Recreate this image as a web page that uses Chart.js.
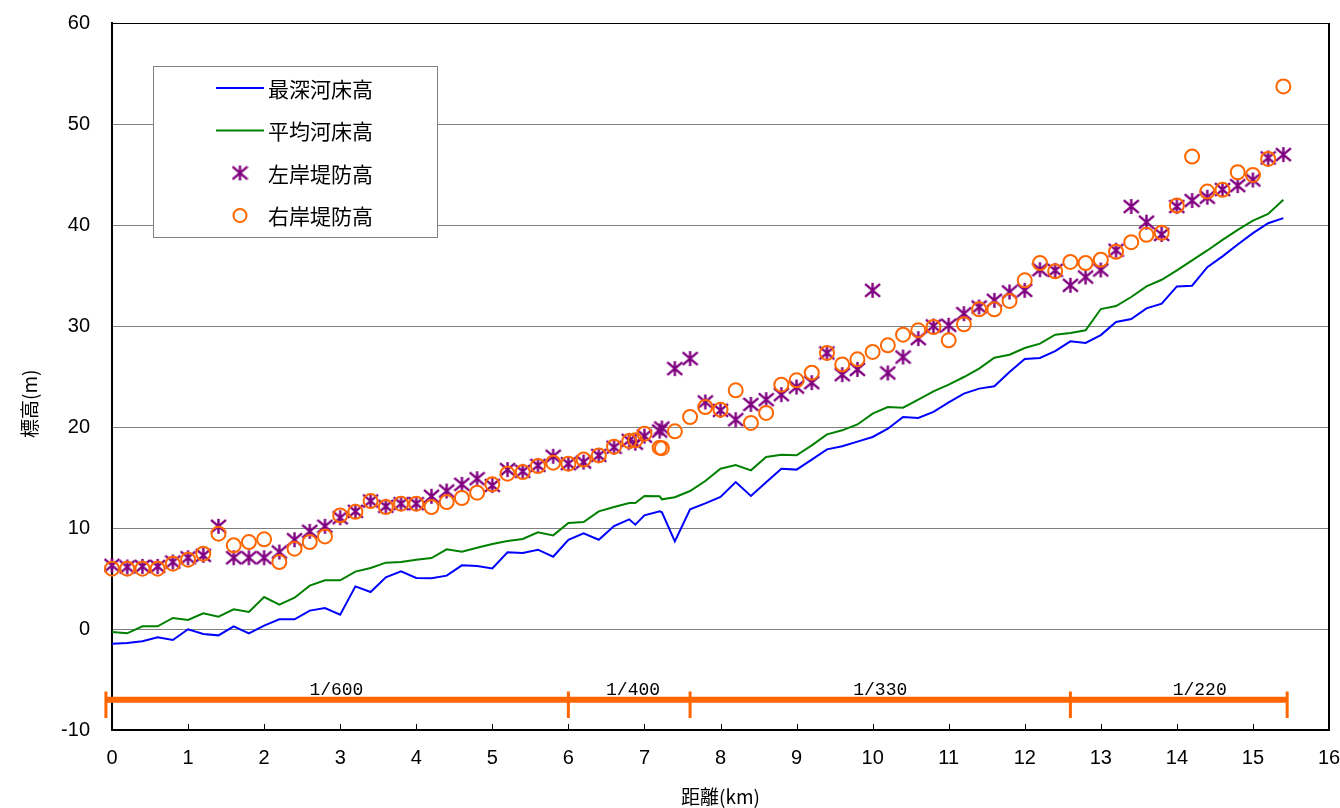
<!DOCTYPE html>
<html>
<head>
<meta charset="utf-8">
<script src="https://cdn.jsdelivr.net/npm/chart.js@4.4.1/dist/chart.umd.min.js"></script>
<style>
  html, body { margin: 0; padding: 0; background: #fff; }
  #wrap { width: 1340px; height: 808px; }
</style>
</head>
<body>
<div id="wrap"><canvas id="c" width="1340" height="808"></canvas></div>
<script>
// distance along the river (km)
const dist = [
  0, 0.2, 0.4, 0.6, 0.8, 1.0, 1.2, 1.4, 1.6, 1.8, 2.0, 2.2, 2.4, 2.6, 2.8, 3.0,
  3.2, 3.4, 3.6, 3.8, 4.0, 4.2, 4.4, 4.6, 4.8, 5.0, 5.2, 5.4, 5.6, 5.8, 6.0,
  6.2, 6.4, 6.6, 6.8, 6.88, 7.0, 7.2, 7.23, 7.4, 7.6, 7.8, 8.0, 8.2, 8.4, 8.6,
  8.8, 9.0, 9.2, 9.4, 9.6, 9.8, 10.0, 10.2, 10.4, 10.6, 10.8, 11.0, 11.2, 11.4,
  11.6, 11.8, 12.0, 12.2, 12.4, 12.6, 12.8, 13.0, 13.2, 13.4, 13.6, 13.8, 14.0,
  14.2, 14.4, 14.6, 14.8, 15.0, 15.2, 15.4
];
// 最深河床高
const deepestBed = [
  -1.45, -1.39, -1.22, -0.83, -1.09, -0.03, -0.5, -0.63, 0.26, -0.43, 0.33, 0.96, 0.96, 1.82, 2.08, 1.42,
  4.22, 3.66, 5.12, 5.71, 5.05, 5.02, 5.28, 6.3, 6.24, 6.0, 7.59, 7.52, 7.85, 7.16, 8.84,
  9.47, 8.84, 10.2, 10.86, 10.33, 11.25, 11.65, 11.55, 8.68, 11.85, 12.44, 13.07, 14.55, 13.17, 14.52,
  15.87, 15.78, 16.77, 17.79, 18.09, 18.55, 19.01, 19.83, 20.99, 20.89, 21.49, 22.44, 23.3, 23.8,
  24.03, 25.45, 26.73, 26.83, 27.52, 28.48, 28.32, 29.1, 30.4, 30.69, 31.75, 32.21, 33.92,
  33.99, 35.83, 36.89, 38.07, 39.19, 40.18, 40.68
];
// 平均河床高
const averageBed = [
  -0.3, -0.43, 0.26, 0.26, 1.09, 0.89, 1.55, 1.22, 1.95, 1.68, 3.17, 2.41, 3.1, 4.29, 4.82, 4.82,
  5.68, 6.04, 6.57, 6.63, 6.86, 7.03, 7.89, 7.66, 8.05, 8.42, 8.71, 8.91, 9.57, 9.27, 10.5,
  10.59, 11.65, 12.08, 12.48, 12.48, 13.17, 13.14, 12.84, 13.04, 13.66, 14.65, 15.87, 16.24, 15.71, 17.03,
  17.26, 17.2, 18.18, 19.27, 19.67, 20.25, 21.32, 21.98, 21.91, 22.71, 23.53, 24.19, 24.95, 25.78,
  26.86, 27.16, 27.82, 28.25, 29.14, 29.31, 29.57, 31.68, 31.97, 32.87, 33.92, 34.58, 35.5,
  36.49, 37.48, 38.53, 39.52, 40.44, 41.1, 42.49
];
// 左岸堤防高
const leftBank = [
  6.3, 6.14, 6.2, 6.2, 6.63, 7.06, 7.29, 10.17, 7.06, 7.06, 7.06, 7.62, 8.84, 9.67, 10.17, 11.02,
  11.65, 12.67, 12.15, 12.41, 12.41, 13.14, 13.66, 14.32, 14.88, 14.22, 15.78, 15.61, 16.2, 17.1, 16.37,
  16.53, 17.19, 18.0, 18.68, 18.4, 19.1, 19.6, 19.9, 25.78, 26.77, 22.48, 21.65, 20.73, 22.24, 22.71,
  23.2, 23.96, 24.39, 27.33, 25.18, 25.7, 33.53, 25.35, 26.93, 28.75, 30.0, 30.07, 31.22, 31.88,
  32.54, 33.37, 33.53, 35.58, 35.51, 34.03, 34.85, 35.55, 37.5, 41.83, 40.28, 39.06, 41.83,
  42.42, 42.75, 43.51, 43.9, 44.46, 46.64, 46.97
];
// 右岸堤防高
const rightBank = [
  5.97, 5.97, 5.97, 5.97, 6.47, 6.86, 7.46, 9.44, 8.28, 8.61, 8.88, 6.63, 7.95, 8.61, 9.17, 11.25,
  11.6, 12.67, 12.08, 12.41, 12.41, 12.08, 12.57, 12.97, 13.5, 14.32, 15.38, 15.54, 16.14, 16.47, 16.37,
  16.77, 17.19, 18.05, 18.61, 18.68, 19.34, 17.95, 17.9, 19.57, 20.99, 21.98, 21.72, 23.63, 20.4, 21.39,
  24.19, 24.62, 25.38, 27.33, 26.2, 26.7, 27.43, 28.09, 29.14, 29.57, 29.9, 28.58, 30.17, 31.65,
  31.65, 32.48, 34.52, 36.24, 35.41, 36.34, 36.24, 36.56, 37.35, 38.3, 39.03, 39.23, 41.93,
  46.77, 43.31, 43.48, 45.22, 44.96, 46.54, 53.72
];
// river bed gradient sections
const gradBreaks = [-0.08, 6.0, 7.6, 12.6, 15.45];
const gradLabels = ['1/600', '1/400', '1/330', '1/220'];
const gradLabelAt = [2.95, 6.85, 10.1, 14.3];
const gradLevel = -7;
const gradTickTop = -6.2;
const gradTickBottom = -8.8;
const gradLabelLevel = -6.1;

const ORANGE = '#FF6600';
const PURPLE = '#800080';
const TICK_FONT = { family: '"Liberation Sans", Arial, sans-serif', size: 20 };
const JP_FONT = '"Noto Sans CJK JP", sans-serif';

const toXY = ys => dist.map((x, i) => ({ x, y: ys[i] }));

// Excel-like "*" marker: X plus a vertical bar
function asterisk(color, size) {
  const c = document.createElement('canvas');
  c.width = c.height = size;
  const g = c.getContext('2d');
  g.strokeStyle = color;
  g.lineWidth = 2.4;
  const m = size / 2, r = size / 2 - 1;
  g.beginPath();
  g.moveTo(m, m - r); g.lineTo(m, m + r);
  g.moveTo(m - r, m - r * 0.85); g.lineTo(m + r, m + r * 0.85);
  g.moveTo(m + r, m - r * 0.85); g.lineTo(m - r, m + r * 0.85);
  g.stroke();
  return c;
}
const starImg = asterisk(PURPLE, 17);

// listed right-to-left so Chart.js does not treat them as sorted and skip the one left of x=0
const gradTicks = gradBreaks.slice().reverse().flatMap(x => [
  { x, y: gradTickTop }, { x, y: gradTickBottom }, { x, y: null }
]);

// legend box, inner x ticks, right border, gradient labels, y title
const decorations = {
  id: 'decorations',
  afterDraw(chart) {
    const { ctx, chartArea: a, scales: { x, y } } = chart;
    ctx.save();

    // right frame line
    ctx.strokeStyle = '#000';
    ctx.lineWidth = 2;
    ctx.beginPath();
    ctx.moveTo(a.right, a.top);
    ctx.lineTo(a.right, a.bottom);
    ctx.stroke();

    // small inward ticks on the x axis
    ctx.lineWidth = 1;
    ctx.beginPath();
    x.ticks.forEach(t => {
      const px = Math.round(x.getPixelForValue(t.value)) + 0.5;
      ctx.moveTo(px, a.bottom);
      ctx.lineTo(px, a.bottom - 6);
    });
    ctx.stroke();

    // gradient labels
    ctx.fillStyle = '#000';
    ctx.font = '18px "Liberation Mono", "DejaVu Sans Mono", monospace';
    ctx.textAlign = 'center';
    ctx.textBaseline = 'middle';
    gradLabels.forEach((s, i) => {
      ctx.fillText(s, x.getPixelForValue(gradLabelAt[i]), y.getPixelForValue(gradLabelLevel));
    });

    // y axis title (sits a little below the middle, as in the original)
    ctx.save();
    ctx.translate(30, y.getPixelForValue(22.3));
    ctx.rotate(-Math.PI / 2);
    ctx.font = '19px ' + JP_FONT;
    ctx.fillText('標高(m)', 0, 0);
    ctx.restore();

    // legend
    const bx = a.left + 41, by = a.top + 43, bw = 284, bh = 171;
    ctx.fillStyle = '#fff';
    ctx.fillRect(bx, by, bw, bh);
    ctx.strokeStyle = '#808080';
    ctx.lineWidth = 1;
    ctx.strokeRect(bx + 0.5, by + 0.5, bw, bh);
    const items = chart.data.datasets.filter(d => d.legend).sort((p, q) => p.legend - q.legend);
    ctx.font = '21px ' + JP_FONT;
    ctx.textAlign = 'left';
    items.forEach((d, i) => {
      const cy = by + 22 + i * 42.5;
      const cx = bx + 87;
      if (d.showLine) {
        ctx.strokeStyle = d.borderColor;
        ctx.lineWidth = 2;
        ctx.beginPath();
        ctx.moveTo(cx - 24, cy);
        ctx.lineTo(cx + 24, cy);
        ctx.stroke();
      } else if (d.pointStyle === starImg) {
        ctx.drawImage(starImg, cx - 8.5, cy - 8.5);
      } else {
        ctx.strokeStyle = d.borderColor;
        ctx.lineWidth = 2;
        ctx.beginPath();
        ctx.arc(cx, cy, 6.5, 0, Math.PI * 2);
        ctx.stroke();
      }
      ctx.fillStyle = '#000';
      ctx.fillText(d.label, bx + 115, cy + 1);
    });
    ctx.restore();
  }
};

new Chart(document.getElementById('c'), {
  type: 'scatter',
  data: {
    datasets: [
      {
        label: '右岸堤防高', legend: 4, data: toXY(rightBank), showLine: false,
        pointStyle: 'circle', pointRadius: 7, borderWidth: 2,
        borderColor: ORANGE, backgroundColor: 'rgba(0,0,0,0)', clip: false
      },
      {
        label: '左岸堤防高', legend: 3, data: toXY(leftBank), showLine: false,
        pointStyle: starImg, pointRadius: 8, borderColor: PURPLE, clip: false
      },
      {
        label: '平均河床高', legend: 2, data: toXY(averageBed), showLine: true,
        borderColor: '#008000', borderWidth: 2, pointRadius: 0, tension: 0
      },
      {
        label: '最深河床高', legend: 1, data: toXY(deepestBed), showLine: true,
        borderColor: '#0000FF', borderWidth: 2, pointRadius: 0, tension: 0
      },
      {
        label: 'grad', data: gradTicks, showLine: true, spanGaps: false,
        borderColor: ORANGE, borderWidth: 3, pointRadius: 0, clip: false
      },
      {
        label: 'gradbar', data: [{ x: gradBreaks[gradBreaks.length - 1], y: gradLevel }, { x: gradBreaks[0], y: gradLevel }],
        showLine: true, borderColor: ORANGE, borderWidth: 6, pointRadius: 0, clip: false
      }
    ]
  },
  options: {
    responsive: false,
    animation: false,
    layout: { padding: { top: 23, right: 11, bottom: 0, left: 0 } },
    plugins: { legend: { display: false }, tooltip: { enabled: false } },
    scales: {
      x: {
        type: 'linear', min: 0, max: 16,
        ticks: { stepSize: 1, font: TICK_FONT, color: '#000', padding: 16, maxRotation: 0 },
        grid: { display: false, drawTicks: false },
        border: { display: true, color: '#000', width: 2 },
        title: { display: true, text: '距離(km)', color: '#000', font: { family: JP_FONT, size: 19 }, padding: { top: 0, bottom: 0 } },
        afterFit(s) { s.height = 78; s.paddingLeft = 0; s.paddingRight = 0; }
      },
      y: {
        min: -10, max: 60,
        ticks: { stepSize: 10, font: TICK_FONT, color: '#000', padding: 22 },
        grid: { drawTicks: false, lineWidth: 1, color: c => (c.tick && c.tick.value === 60 ? '#000' : '#808080') },
        border: { display: true, color: '#000', width: 2 },
        title: { display: false },
        afterFit(s) { s.width = 112; s.paddingTop = 0; s.paddingBottom = 0; }
      }
    }
  },
  plugins: [decorations]
});
</script>
</body>
</html>
